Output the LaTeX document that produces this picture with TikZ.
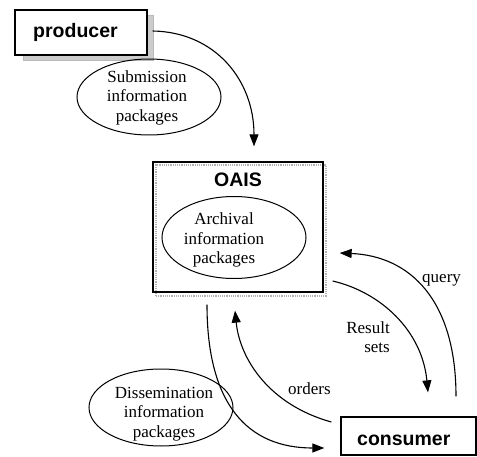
\documentclass[tikz,border=0pt]{standalone}
\usepackage{fontspec}
\setmainfont{Liberation Serif}
\setsansfont{Liberation Sans}
\usetikzlibrary{shapes.geometric,arrows.meta}
\tikzset{
  boxframe/.style={draw=black,line width=1.3pt,inner sep=0pt,rectangle},
  boxshadow/.style={draw=gray!55,fill=gray!40,line width=0.6pt,inner sep=0pt,rectangle},
  frameshadow/.style={draw=gray!60,line width=1.2pt,densely dotted,inner sep=0pt,rectangle},
  pack/.style={draw=black,line width=1pt,ellipse,inner sep=0pt},
  packtext/.style={font=\fontsize{17}{19.5}\selectfont,align=center,inner sep=0pt},
  boxlabel/.style={font=\sffamily\bfseries\fontsize{19.5}{22}\selectfont,inner sep=0pt},
  flowlabel/.style={font=\fontsize{17}{19.5}\selectfont,inner sep=0pt},
  flow/.style={line width=1.1pt,-{Triangle[length=12pt,width=9pt]}},
  flowplain/.style={line width=1.1pt}
}
\begin{document}
\begin{tikzpicture}[x=1pt,y=-1pt]
\useasboundingbox (0,0) rectangle (477,457);
% producer
\node[boxshadow,minimum width=130pt,minimum height=45pt] (prodshadow) at (88,37.5) {};
\node[boxframe,fill=white,minimum width=132pt,minimum height=45pt] (producer) at (81,32.5) {};
\node[boxlabel,anchor=base west] (prodlabel) at (33,38) {producer};
% submission
\node[pack,minimum width=144pt,minimum height=76pt] (sip) at (149,97) {};
\node[packtext] (siptext) at (147,97.5) {Submission\\information\\packages};
% OAIS
\node[frameshadow,minimum width=170pt,minimum height=131pt] (oaisshadow) at (241,230.5) {};
\node[boxframe,minimum width=170pt,minimum height=130pt] (oais) at (238,227) {};
\node[boxlabel,anchor=base west] (oaislabel) at (214,187) {OAIS};
\node[pack,minimum width=144pt,minimum height=82pt] (aip) at (234,237.5) {};
\node[packtext] (aiptext) at (224,240) {Archival\\information\\packages};
% dissemination
\node[pack,minimum width=144pt,minimum height=77pt] (dip) at (161,407.5) {};
\node[packtext] (diptext) at (164,414) {Dissemination\\information\\packages};
% consumer
\node[boxframe,minimum width=135pt,minimum height=38pt] (consumer) at (408.5,436) {};
\node[boxlabel,anchor=base west] (conslabel) at (357,445) {consumer};
% labels
\node[flowlabel,anchor=base west] (orderslbl) at (288,394) {orders};
\node[flowlabel,align=right,anchor=east] (resultlbl) at (390,337) {Result\\sets};
\node[flowlabel,anchor=base west] (querylbl) at (422,283) {query};
% connectors
\draw[flow] ([xshift=5pt,yshift=1.5pt]producer.east) .. controls (215,32) and (254,80) .. ([xshift=16pt,yshift=15pt]oais.north);
\draw[flow] ([xshift=-31pt,yshift=-12pt]oais.south) .. controls (207,405) and (248,448) .. ([xshift=-16pt,yshift=-12pt]consumer.west);
\draw[flow] ([xshift=-9pt,yshift=14pt]consumer.west) .. controls (270,405) and (240,360) .. ([xshift=-3pt,yshift=-18pt]oais.south);
\draw[flow] ([xshift=9pt,yshift=-54pt]oais.east) .. controls (380,292) and (422,330) .. ([xshift=19.5pt,yshift=24pt]consumer.north);
\draw[flow] ([xshift=47.5pt,yshift=20pt]consumer.north) .. controls (456,300) and (410,256) .. ([xshift=16pt,yshift=-26pt]oais.east);
\end{tikzpicture}
\end{document}
